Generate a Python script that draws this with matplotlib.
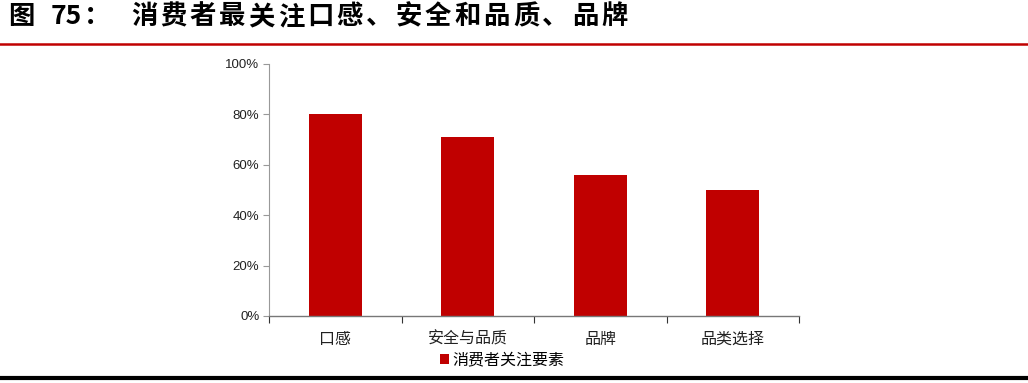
import numpy as np
import matplotlib
matplotlib.use("Agg")
import matplotlib.pyplot as plt
from matplotlib.lines import Line2D
from matplotlib.patches import Patch

categories = ["口感", "安全与品质", "品牌", "品类选择"]
values = [80, 71, 56, 50]
series_name = "消费者关注要素"
title_label = "图"
title_num = "75"
title_text = "消费者最关注口感、安全和品质、品牌"

red = "#C00000"
cjk = ["Noto Sans CJK SC", "DejaVu Sans"]
W, H = 1028, 383

fig = plt.figure(figsize=(W / 100, H / 100), dpi=100)
ax = fig.add_axes([269/W, 1-316/H, 530/W, 252/H])

x = np.arange(len(categories))
ax.bar(x, values, width=0.4, color=red, zorder=2)

ax.set_xlim(-0.5, len(categories) - 0.5)
ax.set_ylim(0, 100)
ax.set_yticks(np.arange(0, 101, 20))
ax.set_yticklabels([f"{v}%" for v in range(0, 101, 20)],
                   fontfamily="Liberation Sans", fontsize=9.5, color="#222222")

# category labels sit between the boundary ticks
ax.set_xticks(np.arange(-0.5, len(categories), 1.0))
ax.set_xticklabels([])
ax.set_xticks(x, minor=True)
ax.set_xticklabels(categories, minor=True, fontfamily=cjk, fontsize=11.5, color="#222222")
ax.tick_params(axis="x", which="minor", length=0, pad=10.5)
ax.tick_params(axis="x", which="major", length=5, color="#333333", width=0.8)
ax.tick_params(axis="y", length=4, color="#999999", width=0.8, pad=3)

for s in ["top", "right"]:
    ax.spines[s].set_visible(False)
ax.spines["left"].set_color("#999999")
ax.spines["bottom"].set_color("#777777")
ax.spines["left"].set_linewidth(0.8)
ax.spines["bottom"].set_linewidth(1.0)

fig.legend(handles=[Patch(facecolor=red, label=series_name)],
           loc="center", bbox_to_anchor=(502/W, 1-360/H), frameon=False,
           prop={"family": cjk, "size": 11.5}, handlelength=0.55, handleheight=0.55,
           handletextpad=0.2)

# title, spaced out like the original
ty = 1 - 16.5/H
tkw = dict(fontfamily=cjk, fontsize=19, fontweight="bold", va="center", color="black")
fig.text(8/W, ty, title_label, ha="left", **tkw)
fig.text(51/W, ty, title_num, ha="left", **tkw)
fig.text(84/W, ty, "：", ha="left", **tkw)
for i, ch in enumerate(title_text):
    fig.text((144 + i * 29.4)/W, ty, ch, ha="center", **tkw)

fig.add_artist(Line2D([0, 1], [1-43.5/H, 1-43.5/H], color=red, linewidth=1.8))
fig.add_artist(Line2D([0, 1], [1-377.5/H, 1-377.5/H], color="black", linewidth=3))

fig.savefig("out.png", dpi=100)
